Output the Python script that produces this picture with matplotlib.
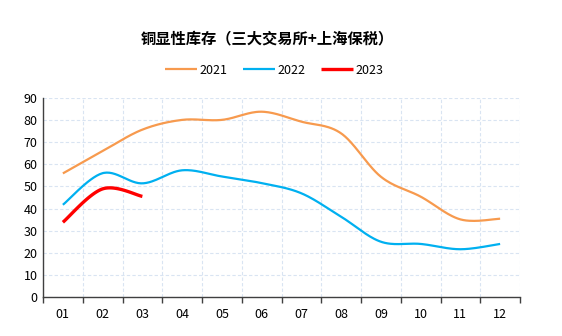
import numpy as np
import matplotlib.pyplot as plt
from matplotlib.ticker import FixedLocator

plt.rcParams['font.family'] = ['Noto Sans CJK SC', 'DejaVu Sans']

months = ['01', '02', '03', '04', '05', '06', '07', '08', '09', '10', '11', '12']
y2021 = [55.9, 66.0, 75.7, 80.1, 80.1, 83.8, 79.3, 74.0, 54.4, 45.4, 35.1, 35.4]
y2022 = [41.7, 56.0, 51.4, 57.3, 54.5, 51.5, 46.9, 36.3, 25.0, 24.0, 21.6, 24.0]
y2023 = [33.8, 48.9, 45.5]


def smooth(vals, n=30):
    # catmull-rom style bezier, like excel's smoothed line
    p = np.array(vals, dtype=float)
    x = np.arange(1, len(p) + 1, dtype=float)
    pts = np.column_stack([x, p])
    ext = np.vstack([pts[0], pts, pts[-1]])
    out = []
    t = np.linspace(0, 1, n)[:, None]
    for i in range(1, len(ext) - 2):
        p0, p1, p2, p3 = ext[i - 1], ext[i], ext[i + 1], ext[i + 2]
        c1 = p1 + (p2 - p0) / 6
        c2 = p2 - (p3 - p1) / 6
        seg = (1 - t) ** 3 * p1 + 3 * (1 - t) ** 2 * t * c1 + 3 * (1 - t) * t ** 2 * c2 + t ** 3 * p2
        out.append(seg if i == 1 else seg[1:])
    out = np.vstack(out)
    return out[:, 0], out[:, 1]


fig = plt.figure(figsize=(5.62, 3.36), dpi=100)
ax = fig.add_axes([43 / 562, 1 - 297 / 336, 477 / 562, 199 / 336])

for vals, col, lw, lab in [(y2021, '#F79A4E', 1.6, '2021'),
                           (y2022, '#00B0F0', 1.6, '2022'),
                           (y2023, '#FF0000', 2.4, '2023')]:
    sx, sy = smooth(vals)
    ax.plot(sx, sy, color=col, lw=lw, label=lab, solid_capstyle='butt')

ax.set_xlim(0.5, 12.5)
ax.set_ylim(0, 90)
ax.set_yticks(range(0, 91, 10))
ax.set_xticks(range(1, 13))
ax.set_xticklabels(months)
ax.xaxis.set_minor_locator(FixedLocator(np.arange(0.5, 13, 1)))
ax.tick_params(axis='x', which='major', length=0, pad=8, labelsize=9)
ax.tick_params(axis='x', which='minor', length=4, width=1, color='#404040', direction='out')
ax.tick_params(axis='y', length=0, pad=4, labelsize=9)

ax.grid(True, axis='y', which='major', color='#D9E4F2', ls=(0, (3, 2)), lw=0.8)
ax.grid(True, axis='x', which='minor', color='#D9E4F2', ls=(0, (3, 2)), lw=0.8)
ax.set_axisbelow(True)
for s in ['top', 'right']:
    ax.spines[s].set_visible(False)
for s in ['left', 'bottom']:
    ax.spines[s].set_color('#404040')
    ax.spines[s].set_linewidth(1)

fig.text(267 / 562, 1 - 38 / 336, '铜显性库存（三大交易所+上海保税）', ha='center', va='center',
         fontsize=11, fontweight='bold')
fig.legend(loc='center', bbox_to_anchor=(274 / 562, 1 - 70 / 336), ncol=3, frameon=False,
           fontsize=9, handlelength=2.6, handletextpad=0.2, columnspacing=1.2)

fig.savefig('out.png', dpi=100)
